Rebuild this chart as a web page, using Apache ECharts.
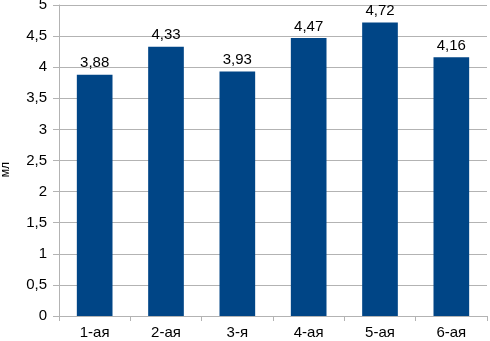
<!DOCTYPE html>
<html>
<head>
<meta charset="utf-8">
<script src="https://cdn.jsdelivr.net/npm/echarts@6/dist/echarts.min.js"></script>
<style>
  html, body { margin: 0; padding: 0; background: #fff; }
  #chart { width: 490px; height: 341px; }
</style>
</head>
<body>
<div id="chart"></div>
<script>
// данные
var categories = ['1-ая', '2-ая', '3-я', '4-ая', '5-ая', '6-ая'];
var values = [3.88, 4.33, 3.93, 4.47, 4.72, 4.16];
var yName = 'мл';

function comma(v) {
  return String(v).replace('.', ',');
}

var chart = echarts.init(document.getElementById('chart'));
chart.setOption({
  animation: false,
  textStyle: { fontFamily: 'Liberation Sans, Arial, sans-serif' },
  grid: { left: 59, right: 3, top: 5, bottom: 25, containLabel: false, outerBoundsMode: 'none' },
  xAxis: {
    type: 'category',
    data: categories,
    axisLine: { lineStyle: { color: '#b3b3b3' } },
    axisTick: { show: true, length: 5, lineStyle: { color: '#b3b3b3' } },
    axisLabel: { color: '#000', fontSize: 15, margin: 9 }
  },
  yAxis: {
    type: 'value',
    min: 0, max: 5, interval: 0.5,
    name: yName,
    nameLocation: 'middle',
    nameGap: 47,
    nameTextStyle: { color: '#000', fontSize: 12, padding: [0, 18, 0, 0] },
    axisLine: { show: true, lineStyle: { color: '#b3b3b3' } },
    axisTick: { show: true, length: 6, lineStyle: { color: '#b3b3b3' } },
    axisLabel: { color: '#000', fontSize: 15, margin: 12, formatter: comma },
    splitLine: { lineStyle: { color: '#b3b3b3' } }
  },
  series: [{
    type: 'bar',
    data: values,
    barWidth: '50%',
    itemStyle: { color: '#004586' },
    label: {
      show: true,
      position: 'top',
      color: '#000',
      fontSize: 15,
      distance: 4,
      formatter: function (p) { return comma(p.value); }
    }
  }]
});
</script>
</body>
</html>
